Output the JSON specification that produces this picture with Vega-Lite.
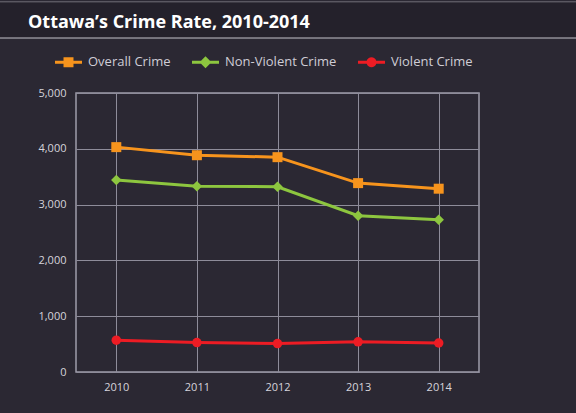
{
  "$schema": "https://vega.github.io/schema/vega-lite/v6.json",
  "background": "#2b2833",
  "autosize": {"type": "none"},
  "width": 403,
  "height": 279,
  "padding": {"left": 76, "top": 93, "right": 97, "bottom": 41},
  "title": {"text": "Ottawa’s Crime Rate, 2010-2014", "anchor": "start", "frame": "group", "orient": "top", "offset": 0, "dx": -48, "dy": 40, "baseline": "middle", "font": "Open Sans", "fontWeight": "bold", "fontSize": 18, "color": "#ffffff"},
  "config": {
    "font": "Open Sans",
    "axis": {"domain": false, "ticks": false, "gridColor": "#8e8c9a", "gridWidth": 1, "gridOpacity": 1, "labelColor": "#d6d4dc", "labelFont": "Open Sans", "labelFontSize": 11},
    "view": {"stroke": "#9e9caa", "strokeWidth": 1.5}
  },
  "data": {"values": [
    {"year": "2010", "series": "Overall Crime", "rate": 4030},
    {"year": "2011", "series": "Overall Crime", "rate": 3885},
    {"year": "2012", "series": "Overall Crime", "rate": 3850},
    {"year": "2013", "series": "Overall Crime", "rate": 3385},
    {"year": "2014", "series": "Overall Crime", "rate": 3285},
    {"year": "2010", "series": "Non-Violent Crime", "rate": 3440},
    {"year": "2011", "series": "Non-Violent Crime", "rate": 3330},
    {"year": "2012", "series": "Non-Violent Crime", "rate": 3320},
    {"year": "2013", "series": "Non-Violent Crime", "rate": 2800},
    {"year": "2014", "series": "Non-Violent Crime", "rate": 2730},
    {"year": "2010", "series": "Violent Crime", "rate": 570},
    {"year": "2011", "series": "Violent Crime", "rate": 528},
    {"year": "2012", "series": "Violent Crime", "rate": 510},
    {"year": "2013", "series": "Violent Crime", "rate": 540},
    {"year": "2014", "series": "Violent Crime", "rate": 520}
  ]},
  "encoding": {
    "x": {"field": "year", "type": "ordinal", "scale": {"type": "point", "padding": 0.5}, "axis": {"title": null, "labelAngle": 0, "labelPadding": 9, "grid": true}},
    "y": {"field": "rate", "type": "quantitative", "scale": {"domain": [0, 5000]}, "axis": {"title": null, "values": [0, 1000, 2000, 3000, 4000, 5000], "format": ",.0f", "labelPadding": 10}}
  },
  "layer": [
    {"mark": {"type": "line", "strokeWidth": 3},
      "encoding": {"color": {"field": "series", "type": "nominal", "scale": {"domain": ["Overall Crime", "Non-Violent Crime", "Violent Crime"], "range": ["#f7941d", "#8dc63f", "#ed1c24"]},
        "legend": {"title": null, "orient": "none", "legendX": -21, "legendY": -44.5, "direction": "horizontal", "symbolSize": 729, "symbolStrokeWidth": 0, "symbolOpacity": 1, "labelColor": "#cfcdd6", "labelFontSize": 13, "labelFont": "Open Sans", "labelOffset": 6, "columnPadding": 21, "padding": 0}}}},
    {"transform": [{"filter": "datum.series == 'Overall Crime'"}], "mark": {"type": "point", "filled": true, "opacity": 1, "shape": "square", "size": 100},
      "encoding": {"color": {"field": "series", "type": "nominal"}}},
    {"transform": [{"filter": "datum.series == 'Non-Violent Crime'"}], "mark": {"type": "point", "filled": true, "opacity": 1, "shape": "diamond", "size": 110},
      "encoding": {"color": {"field": "series", "type": "nominal"}}},
    {"transform": [{"filter": "datum.series == 'Violent Crime'"}], "mark": {"type": "point", "filled": true, "opacity": 1, "shape": "circle", "size": 90},
      "encoding": {"color": {"field": "series", "type": "nominal"}}},
    {"transform": [{"filter": "datum.rate < 0"}], "mark": {"type": "point", "filled": true, "size": 729},
      "encoding": {
        "color": {"field": "series", "type": "nominal"},
        "shape": {"field": "series", "type": "nominal", "scale": {"domain": ["Overall Crime", "Non-Violent Crime", "Violent Crime"], "range": [
          "M-1,-0.11H-0.37V-0.37H0.37V-0.11H1V0.11H0.37V0.37H-0.37V0.11H-1Z",
          "M-1,-0.11H-0.33L0,-0.44L0.33,-0.11H1V0.11H0.33L0,0.44L-0.33,0.11H-1Z",
          "M-1,-0.11H-0.353A0.37,0.37 0 0 1 0.353,-0.11H1V0.11H0.353A0.37,0.37 0 0 1 -0.353,0.11H-1Z"
        ]}}}},
    {"transform": [{"filter": "datum.rate < 0"}], "mark": {"type": "point", "filled": true},
      "encoding": {
        "fill": {"field": "rate", "type": "quantitative", "scale": {"domain": [0, 1], "range": ["#24212b", "#24212b"]},
          "legend": {"title": null, "orient": "none", "legendX": -77.5, "legendY": -91.5, "direction": "horizontal", "gradientLength": 580, "gradientThickness": 35, "gradientStrokeWidth": 0, "labelExpr": "''", "labelOpacity": 0, "labelFontSize": 1, "labelOffset": 0, "padding": 0, "fillColor": "#24212b", "strokeColor": "#c4c3cb",
            "encode": {"legend": {"update": {"strokeWidth": {"value": 3}}}}}}}}
  ]
}
